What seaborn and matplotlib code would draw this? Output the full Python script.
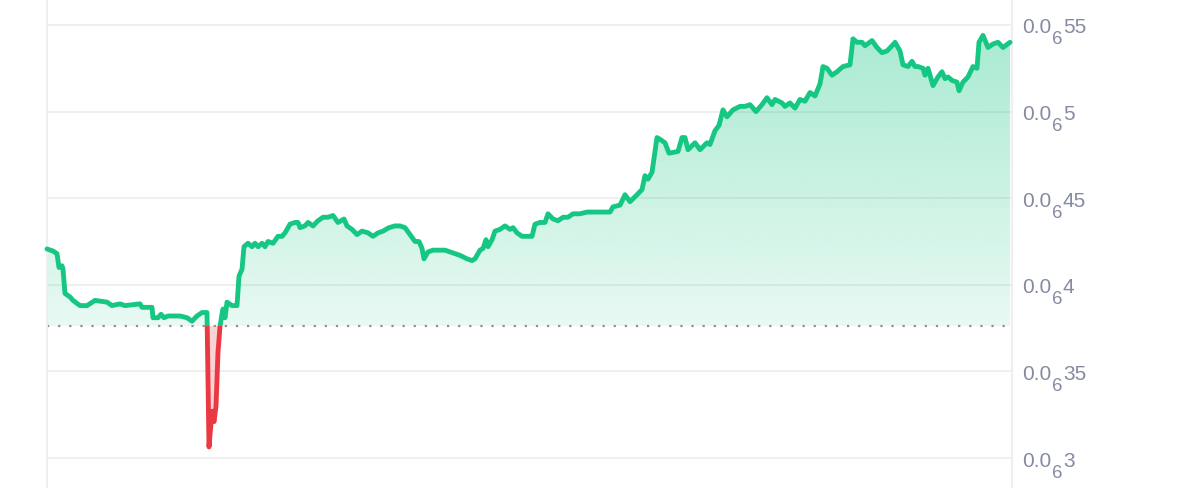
import numpy as np
import pandas as pd
import matplotlib
matplotlib.use("Agg")
import matplotlib.pyplot as plt
from matplotlib.patches import Rectangle
from matplotlib.transforms import IdentityTransform
import seaborn as sns

# ---------------- data (price in units of 1e-7) ----------------
PRICE_UNIT = 1e-7
time_step = [0, 6, 10, 12, 15, 16, 18, 23, 26, 33, 40, 48, 60, 65, 73, 78, 93, 95, 105, 106,
             111, 114, 117, 121, 126, 133, 140, 145, 150, 155, 159, 160, 162, 165, 167, 169, 171,
             173, 175, 176, 178, 180, 185, 190, 192, 195, 197, 201, 205, 208, 211, 215, 218, 221,
             226, 231, 235, 238, 243, 248, 251, 253, 258, 261, 266, 271, 276, 281, 286, 291, 297,
             300, 305, 310, 315, 321, 326, 331, 336, 342, 348, 353, 358, 363, 368, 372, 375, 377,
             381, 386, 393, 398, 403, 408, 413, 420, 425, 428, 433, 436, 439, 441, 445, 448, 453,
             458, 463, 466, 470, 475, 480, 485, 488, 493, 498, 501, 506, 511, 516, 521, 526, 533,
             540, 546, 553, 558, 563, 566, 573, 578, 583, 590, 595, 598, 601, 605, 610, 613, 618,
             622, 631, 635, 638, 641, 648, 653, 660, 663, 668, 672, 676, 680, 686, 693, 698, 703,
             709, 715, 720, 725, 728, 735, 738, 743, 748, 753, 758, 763, 768, 773, 776, 780, 785,
             790, 796, 803, 806, 810, 815, 818, 825, 830, 835, 840, 845, 848, 853, 856, 861, 865,
             868, 871, 876, 878, 881, 886, 891, 895, 898, 901, 905, 910, 912, 916, 921, 926, 930,
             932, 936, 941, 946, 951, 956, 963]
price = [4.207, 4.195, 4.18, 4.10, 4.11, 4.09, 3.95, 3.93, 3.91, 3.88, 3.88, 3.91, 3.90, 3.88,
         3.89, 3.88, 3.89, 3.87, 3.87, 3.81, 3.81, 3.83, 3.81, 3.82, 3.82, 3.82, 3.81, 3.79, 3.82,
         3.84, 3.84, 3.84, 3.064, 3.27, 3.21, 3.30, 3.61, 3.76, 3.83, 3.86, 3.81, 3.90, 3.88, 3.88,
         4.05, 4.09, 4.22, 4.24, 4.22, 4.24, 4.22, 4.24, 4.22, 4.25, 4.24, 4.28, 4.28, 4.30, 4.35,
         4.36, 4.36, 4.33, 4.34, 4.36, 4.34, 4.37, 4.39, 4.39, 4.40, 4.36, 4.38, 4.34, 4.32, 4.29,
         4.31, 4.30, 4.28, 4.30, 4.31, 4.33, 4.34, 4.34, 4.33, 4.29, 4.25, 4.25, 4.21, 4.15, 4.19,
         4.20, 4.20, 4.20, 4.19, 4.18, 4.17, 4.15, 4.14, 4.15, 4.20, 4.21, 4.26, 4.22, 4.26, 4.31,
         4.32, 4.34, 4.32, 4.33, 4.30, 4.28, 4.28, 4.28, 4.35, 4.36, 4.36, 4.41, 4.38, 4.37, 4.39,
         4.39, 4.41, 4.41, 4.42, 4.42, 4.42, 4.42, 4.42, 4.45, 4.46, 4.52, 4.48, 4.52, 4.55, 4.63,
         4.61, 4.65, 4.85, 4.84, 4.82, 4.76, 4.77, 4.85, 4.85, 4.78, 4.82, 4.78, 4.82, 4.81, 4.89,
         4.92, 5.01, 4.97, 5.01, 5.03, 5.03, 5.04, 5.00, 5.04, 5.08, 5.04, 5.07, 5.05, 5.03, 5.05,
         5.02, 5.07, 5.06, 5.11, 5.09, 5.16, 5.26, 5.25, 5.21, 5.23, 5.26, 5.27, 5.42, 5.40, 5.40,
         5.38, 5.41, 5.37, 5.34, 5.35, 5.38, 5.40, 5.35, 5.27, 5.26, 5.29, 5.26, 5.26, 5.25, 5.21,
         5.25, 5.15, 5.20, 5.23, 5.19, 5.20, 5.18, 5.17, 5.12, 5.17, 5.20, 5.26, 5.25, 5.40, 5.44,
         5.37, 5.39, 5.40, 5.37, 5.40]
baseline_price = 3.762
y_ticks = [3.0, 3.5, 4.0, 4.5, 5.0, 5.5]
tick_prefix = ["0.0"] * 6
tick_zeros = ["6"] * 6
tick_digits = ["3", "35", "4", "45", "5", "55"]

# ---------------- style ----------------
GREEN = "#16c784"
RED = "#ea3943"
GRID = "#eeeeee"
LABEL = "#858ca2"

sns.set_theme(style="white")
plt.rcParams["font.family"] = ["Liberation Sans", "DejaVu Sans"]

df = pd.DataFrame({"t": time_step, "price": price})

fig = plt.figure(figsize=(12, 4.89), dpi=100)
ax = fig.add_axes([47 / 1200, 0.0, (1012 - 47) / 1200, 1.0])

x_min, x_max = 0, 965
y_min, y_max = 2.827, 5.650
ax.set_xlim(x_min, x_max)
ax.set_ylim(y_min, y_max)

t = df["t"].to_numpy(float)
p = df["price"].to_numpy(float)

# green gradient fill above baseline
poly = ax.fill_between(t, np.maximum(p, baseline_price), baseline_price,
                       facecolor="none", edgecolor="none")
grad_n = 256
alphas = np.linspace(0.10, 0.40, grad_n)
rgb = matplotlib.colors.to_rgb(GREEN)
img = np.zeros((grad_n, 1, 4))
img[:, 0, 0], img[:, 0, 1], img[:, 0, 2] = rgb
img[:, 0, 3] = alphas
im = ax.imshow(img, extent=[x_min, x_max, baseline_price, y_max], origin="lower",
               aspect="auto", zorder=1, interpolation="bicubic")
im.set_clip_path(poly.get_paths()[0], transform=ax.transData)

# red fill below baseline
ax.fill_between(t, np.minimum(p, baseline_price), baseline_price,
                facecolor=RED, alpha=0.22, edgecolor="none", zorder=1)

# lines: green above baseline, red below (clipped)
sns.lineplot(data=df, x="t", y="price", ax=ax, color=GREEN, linewidth=3.5,
             estimator=None, sort=False, zorder=3)
gline = ax.lines[-1]
sns.lineplot(data=df, x="t", y="price", ax=ax, color=RED, linewidth=3.5,
             estimator=None, sort=False, zorder=3)
rline = ax.lines[-1]
for ln in (gline, rline):
    ln.set_solid_joinstyle("round")
    ln.set_solid_capstyle("round")
clip_up = Rectangle((x_min - 50, baseline_price), x_max + 100, y_max - baseline_price + 1,
                    transform=ax.transData)
clip_dn = Rectangle((x_min - 50, y_min - 1), x_max + 100, baseline_price - y_min + 1,
                    transform=ax.transData)
gline.set_clip_path(clip_up)
rline.set_clip_path(clip_dn)

# baseline dotted
ax.axhline(baseline_price, xmax=963 / 965, color="#8f8f8f", linewidth=1.6,
           linestyle=(0, (1.0, 4.0)), zorder=2)

# grid
for yv in y_ticks:
    ax.axhline(yv, color=GRID, linewidth=1.3, zorder=0)

# axes styling
ax.set_xlabel("")
ax.set_ylabel("")
ax.set_xticks([])
ax.set_yticks([])
for side in ("top", "bottom"):
    ax.spines[side].set_visible(False)
for side in ("left", "right"):
    ax.spines[side].set_visible(True)
    ax.spines[side].set_color("#eeeeee")
    ax.spines[side].set_linewidth(1.5)
ax.set_facecolor("white")
fig.patch.set_facecolor("white")

# right-side tick labels "0.0₆55" built from three text pieces
renderer = fig.canvas.get_renderer()
right_px = ax.transAxes.transform((1, 0))[0]
for yv, pre, zs, dg in zip(y_ticks, tick_prefix, tick_zeros, tick_digits):
    ypx = ax.transData.transform((0, yv))[1]
    base_px = ypx - 7.5
    t1 = fig.text(right_px + 10.5, base_px, pre, transform=IdentityTransform(),
                  ha="left", va="baseline", fontsize=15, color=LABEL)
    bb1 = t1.get_window_extent(renderer)
    t2 = fig.text(bb1.x1 + 0.3, base_px - 11, zs, transform=IdentityTransform(),
                  ha="left", va="baseline", fontsize=13.5, color=LABEL)
    bb2 = t2.get_window_extent(renderer)
    fig.text(bb2.x1 + 0.2, base_px, dg, transform=IdentityTransform(),
             ha="left", va="baseline", fontsize=15, color=LABEL)

fig.savefig("out.png", dpi=100, facecolor="white")
